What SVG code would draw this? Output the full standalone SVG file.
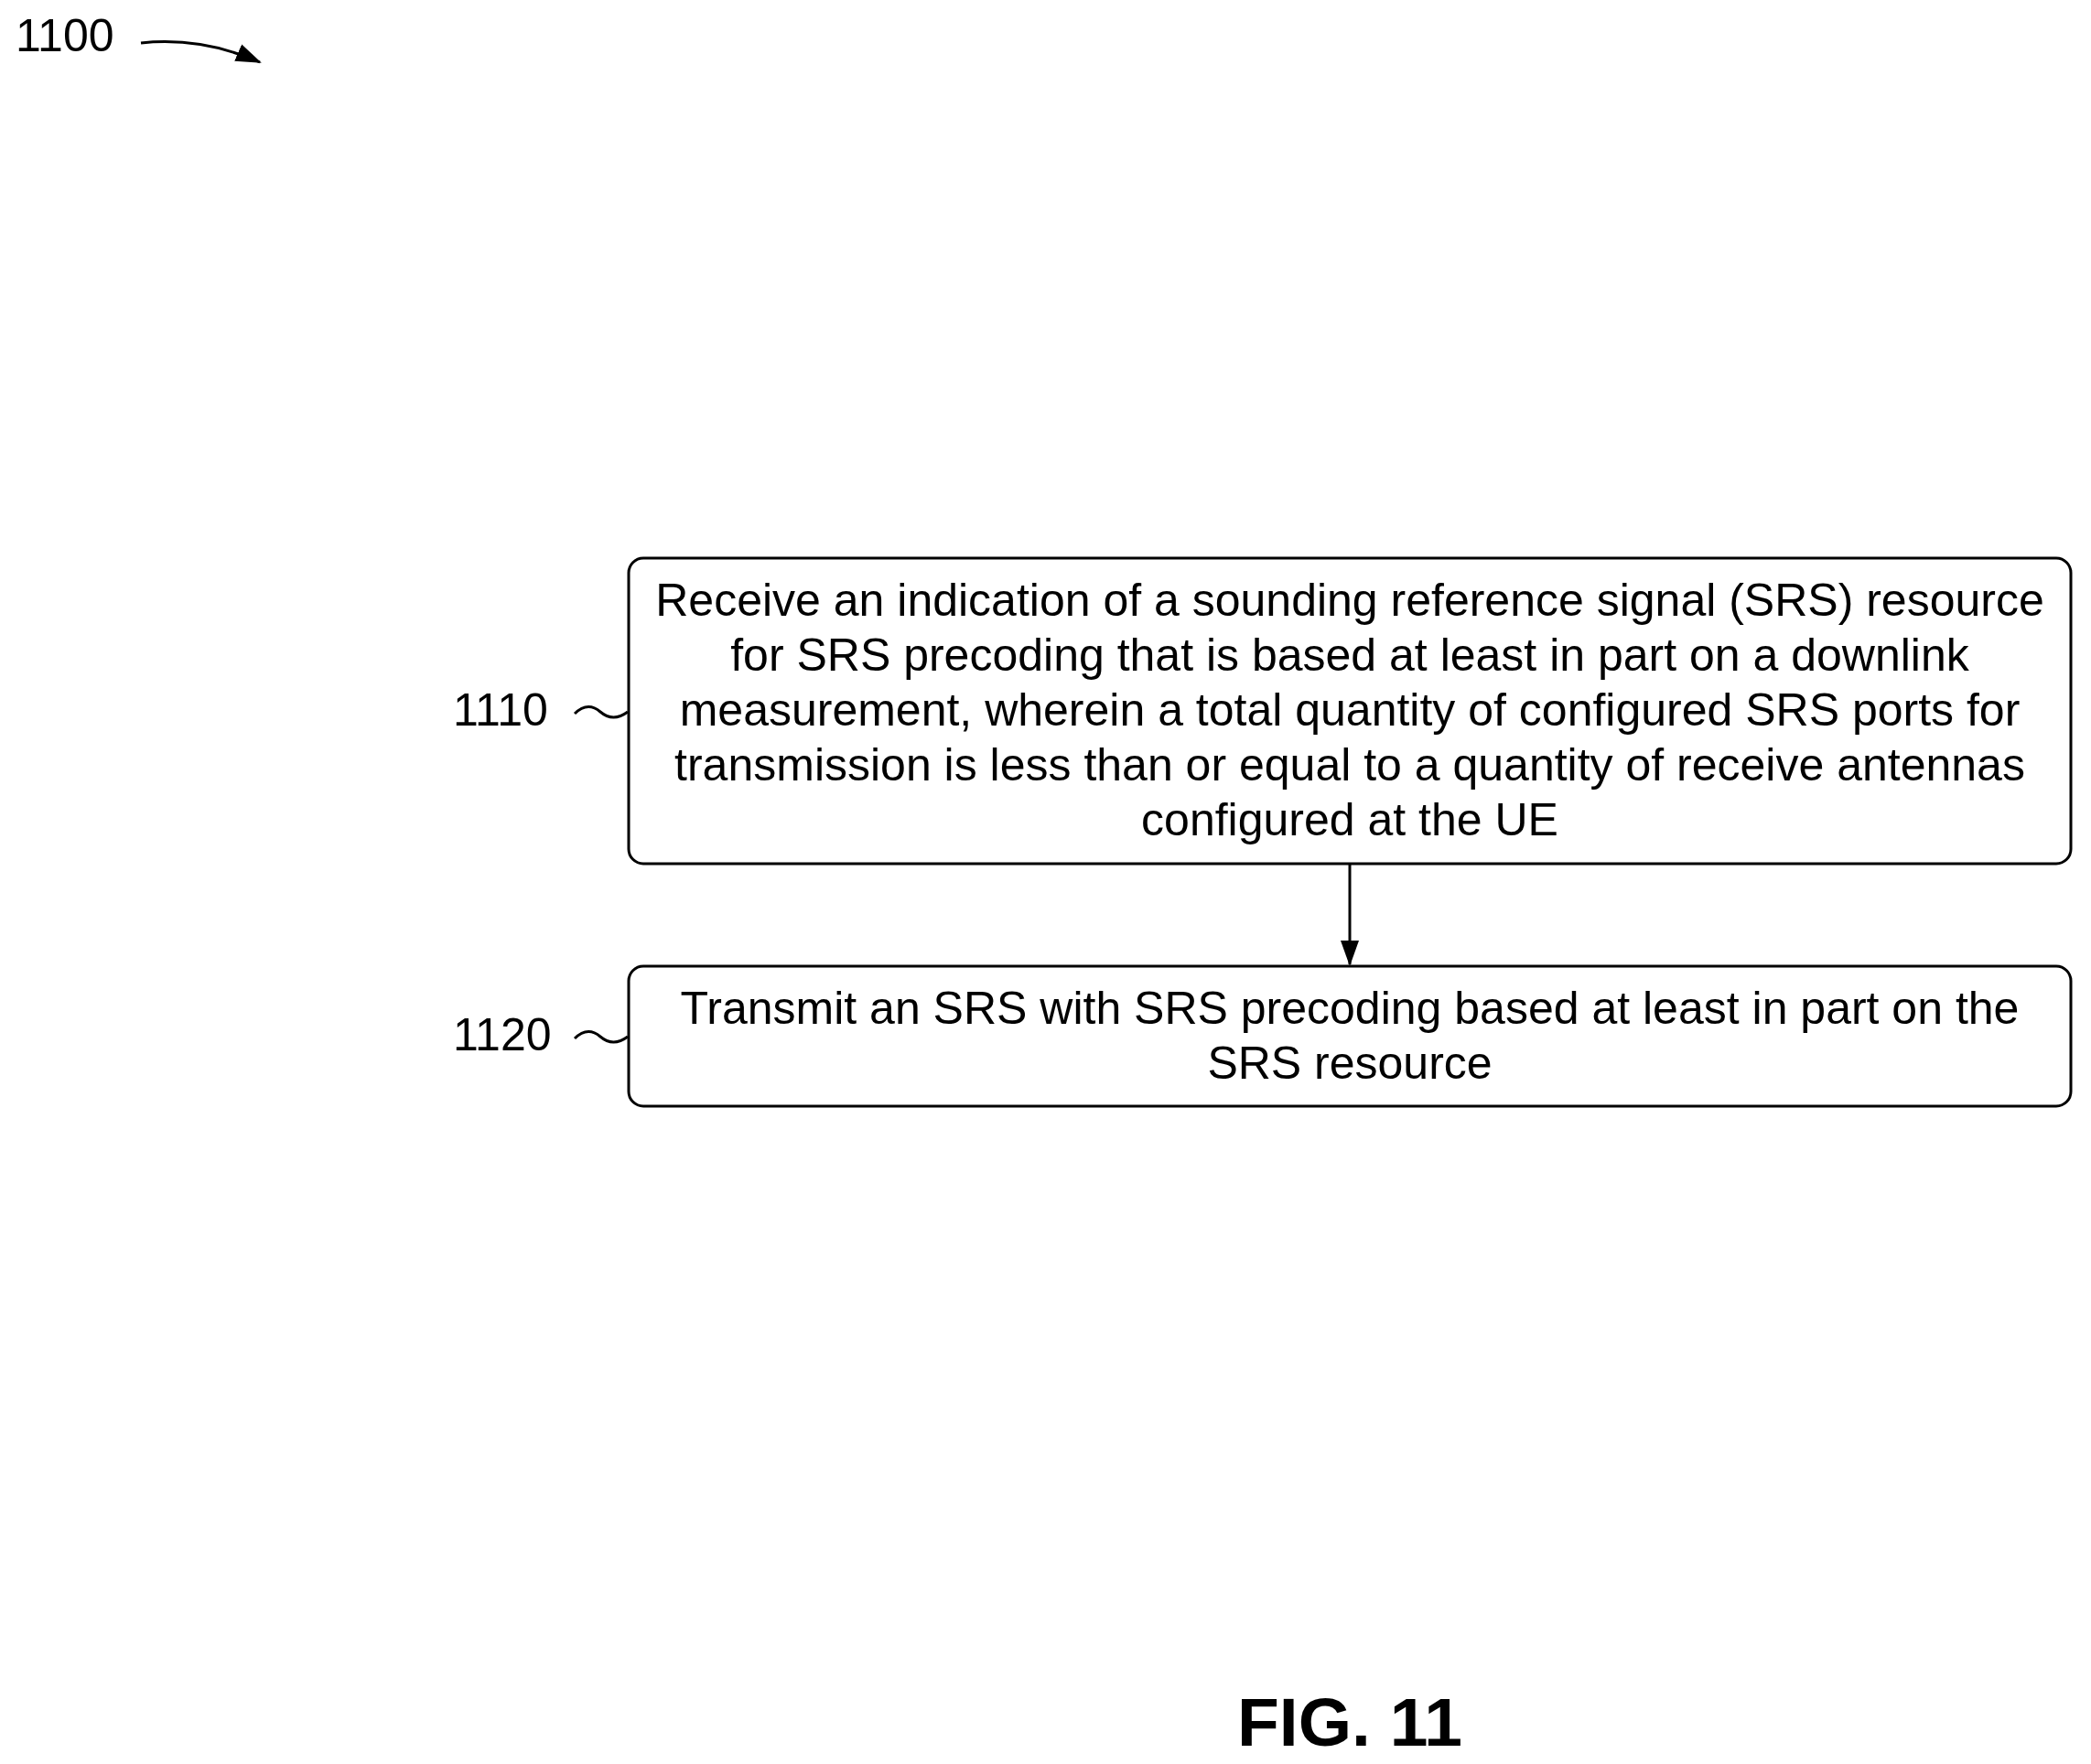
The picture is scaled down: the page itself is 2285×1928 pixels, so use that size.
<svg xmlns="http://www.w3.org/2000/svg" width="2285" height="1928" viewBox="0 0 2285 1928">
<style>
.t{font-family:"Liberation Sans",Arial,sans-serif;font-size:50px;fill:#000}
.b{fill:#fff;stroke:#000;stroke-width:3}
.l{fill:none;stroke:#000;stroke-width:3}
</style>
<defs><marker id="ah" markerWidth="28" markerHeight="28" refX="26" refY="14" orient="auto" markerUnits="userSpaceOnUse" viewBox="0 0 28 28"><path d="M0,4L28,14L0,24z"/></marker></defs>
<g id="label1100"><text class="t" x="17" y="56">1100</text><path class="l" d="M154,47 Q220,40 284,68" marker-end="url(#ah)"/></g>
<g id="n1110"><rect class="b" x="687" y="610" width="1576" height="334" rx="16"/>
<text class="t" text-anchor="middle"><tspan x="1475" y="673">Receive an indication of a sounding reference signal (SRS) resource</tspan><tspan x="1475" y="733">for SRS precoding that is based at least in part on a downlink</tspan><tspan x="1475" y="793">measurement, wherein a total quantity of configured SRS ports for</tspan><tspan x="1475" y="853">transmission is less than or equal to a quantity of receive antennas</tspan><tspan x="1475" y="913">configured at the UE</tspan></text>
<text class="t" x="495" y="793">1110</text><path class="l" d="M628,780 Q642,766 656,778 Q670,790 686,778"/></g>
<g id="n1120"><rect class="b" x="687" y="1056" width="1576" height="153" rx="16"/>
<text class="t" text-anchor="middle"><tspan x="1475" y="1119">Transmit an SRS with SRS precoding based at least in part on the</tspan><tspan x="1475" y="1179">SRS resource</tspan></text>
<text class="t" x="495" y="1148">1120</text><path class="l" d="M628,1135 Q642,1121 656,1133 Q670,1145 686,1133"/></g>
<g id="connectors"><line class="l" x1="1475" y1="944" x2="1475" y2="1054" marker-end="url(#ah)"/></g>
<text x="1352" y="1908" style="font-family:'Liberation Sans',Arial,sans-serif;font-size:75px;font-weight:bold">FIG. 11</text>
</svg>
